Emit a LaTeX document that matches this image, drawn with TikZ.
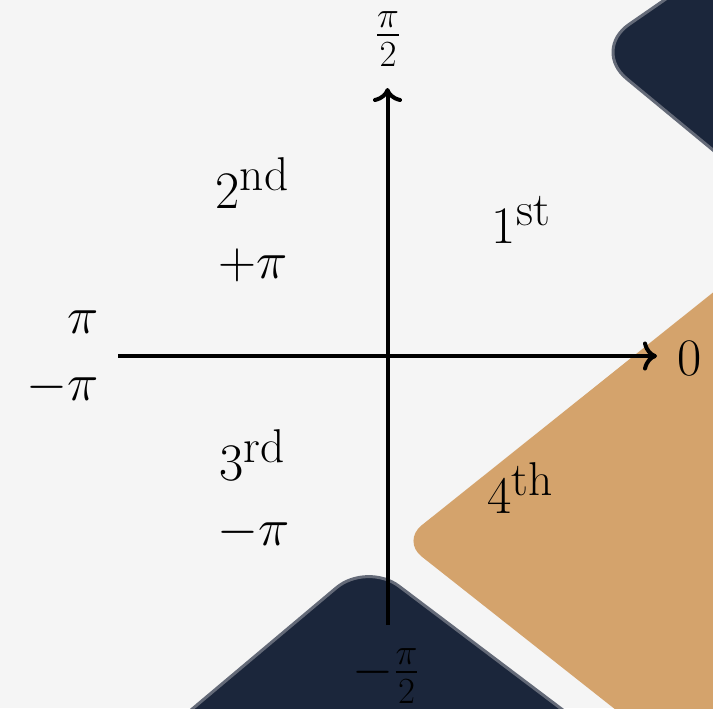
\documentclass[tikz,border=0pt]{standalone}
\usepackage{fix-cm}
\usepackage{amsmath}
\usepackage{tikz}
\usetikzlibrary{arrows.meta}
\usepackage{xcolor}
\definecolor{bggrey}{RGB}{245,245,245}
\definecolor{oxford}{RGB}{27,38,59}
\definecolor{oxfordedge}{RGB}{100,106,120}
\definecolor{buff}{RGB}{212,163,108}
% quadrant number with a raised suffix
\newcommand{\quadlabel}[2]{#1\raisebox{10pt}{\fontsize{27}{32}\selectfont #2}}

\begin{document}
\begin{tikzpicture}[
    x=0.02cm, y=-0.02cm,
    lbl/.style={font=\fontsize{30}{36}\selectfont, inner sep=0pt},
    axis/.style={-{To[length=2.8mm, width=5.8mm]}, line width=0.08cm, black},
    navyblob/.style={fill=oxford, draw=oxfordedge, line width=0.06cm},
    orangeblob/.style={fill=buff}
]
    \useasboundingbox (0,0) rectangle (713,708);
    \fill[bggrey] (0,0) rectangle (713,708);

    % Background shapes
    \begin{scope}
        \clip (0,0) rectangle (713,708);
        \filldraw[navyblob, rounded corners=0.9cm]
            (800,222) -- (592,50) -- (702,-26) -- (800,-26) -- cycle;
        \fill[orangeblob, rounded corners=0.5cm]
            (800,223) -- (402,541) -- (730,800) -- (800,800) -- cycle;
        \filldraw[navyblob, rounded corners=0.8cm]
            (84,800) -- (367,562) -- (682,800) -- cycle;
    \end{scope}

    % Axes
    \coordinate (xstart) at (118,356);
    \coordinate (xend) at (657,356);
    \coordinate (ystart) at (387.5,625);
    \coordinate (yend) at (387.5,88);
    \draw[axis] (xstart) -- (xend);
    \draw[axis] (ystart) -- (yend);

    % Angle labels
    \node[lbl, anchor=base] (halfpi) at (388,48) {$\frac{\pi}{2}$};
    \node[lbl, anchor=base] (neghalfpi) at (386,685) {$-\frac{\pi}{2}$};
    \node[lbl, anchor=base] (zero) at (690,375) {$0$};
    \node[lbl, anchor=base east] (pluspi) at (99,333) {$\pi$};
    \node[lbl, anchor=base east] (minuspi) at (99,400) {$-\pi$};

    % Quadrants
    \node[lbl, anchor=base] (first) at (521,243) {\quadlabel{1}{st}};
    \node[lbl, anchor=base] (second) at (252,208) {\quadlabel{2}{nd}};
    \node[lbl, anchor=base] (secondpi) at (253,278) {$+\pi$};
    \node[lbl, anchor=base] (third) at (252,480) {\quadlabel{3}{rd}};
    \node[lbl, anchor=base] (thirdpi) at (254,545) {$-\pi$};
    \node[lbl, anchor=base] (fourth) at (520,513) {\quadlabel{4}{th}};
\end{tikzpicture}
\end{document}
